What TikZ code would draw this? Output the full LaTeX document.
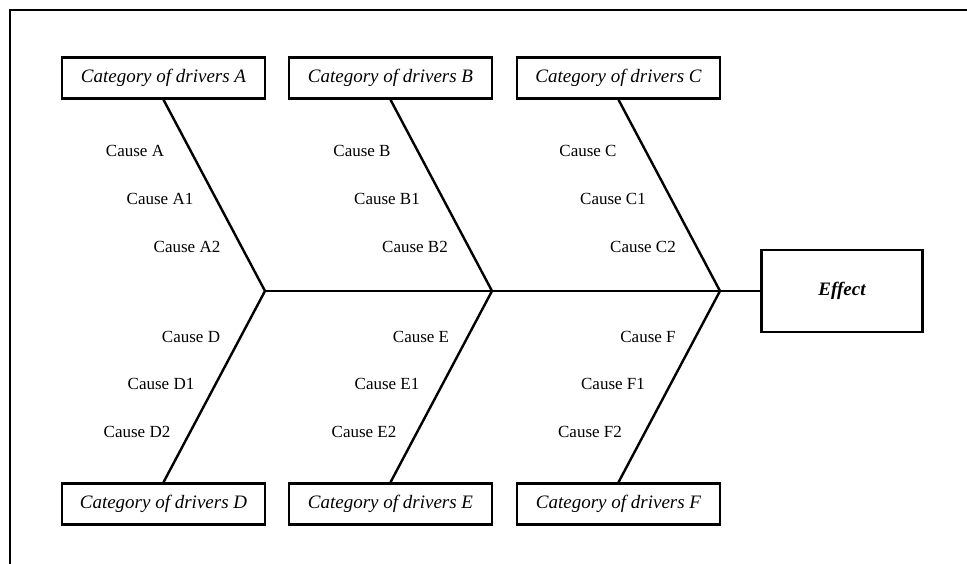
\documentclass[tikz,border=0pt]{standalone}
\usepackage{fontspec}
\setmainfont{Liberation Serif}
\usetikzlibrary{positioning}

\begin{document}
\begin{tikzpicture}[x=1pt, y=-1pt,
    catbox/.style={draw, line width=2.5pt, minimum width=203pt, minimum height=41pt, inner sep=0pt, font=\fontsize{19}{22}\selectfont\itshape},
    effbox/.style={draw, line width=2.5pt, minimum width=161pt, minimum height=82pt, font=\fontsize{19}{22}\selectfont\bfseries\itshape},
    cause/.style={font=\fontsize{17}{20}\selectfont, inner sep=0pt},
    bone/.style={line width=2.4pt}]
        \useasboundingbox (0,0) rectangle (967,564);
        \draw[line width=2pt] (967,10) -- (10,10) -- (10,564);
        % category boxes
        \node[catbox] (ca) at (163.5,78) {Category of drivers A};
        \node[catbox] (cb) at (390.5,78) {Category of drivers B};
        \node[catbox] (cc) at (618.5,78) {Category of drivers C};
        \node[catbox] (cd) at (163.5,504) {Category of drivers D};
        \node[catbox] (ce) at (390.5,504) {Category of drivers E};
        \node[catbox] (cf) at (618.5,504) {Category of drivers F};
        \node[effbox] (eff) at (842,291) {Effect};
        % joints on the spine
        \coordinate (ja) at (265,291);
        \coordinate (jb) at (492,291);
        \coordinate (jc) at (720,291);
        \draw[bone] (ja) -- (eff.west);
        \draw[bone] (ca.south) -- (ja) -- (cd.north);
        \draw[bone] (cb.south) -- (jb) -- (ce.north);
        \draw[bone] (cc.south) -- (jc) -- (cf.north);
        % causes
        \node[cause] (a0) at (135,151) {Cause A};
        \node[cause] (a1) at (160,199) {Cause A1};
        \node[cause] (a2) at (187,247) {Cause A2};
        \node[cause] (b0) at (362,151) {Cause B};
        \node[cause] (b1) at (387,199) {Cause B1};
        \node[cause] (b2) at (415,247) {Cause B2};
        \node[cause] (c0) at (588,151) {Cause C};
        \node[cause] (c1) at (613,199) {Cause C1};
        \node[cause] (c2) at (643,247) {Cause C2};
        \node[cause] (d0) at (191,337) {Cause D};
        \node[cause] (d1) at (161,384) {Cause D1};
        \node[cause] (d2) at (137,432) {Cause D2};
        \node[cause] (e0) at (421,337) {Cause E};
        \node[cause] (e1) at (387,384) {Cause E1};
        \node[cause] (e2) at (364,432) {Cause E2};
        \node[cause] (f0) at (648,337) {Cause F};
        \node[cause] (f1) at (613,384) {Cause F1};
        \node[cause] (f2) at (590,432) {Cause F2};
\end{tikzpicture}
\end{document}
